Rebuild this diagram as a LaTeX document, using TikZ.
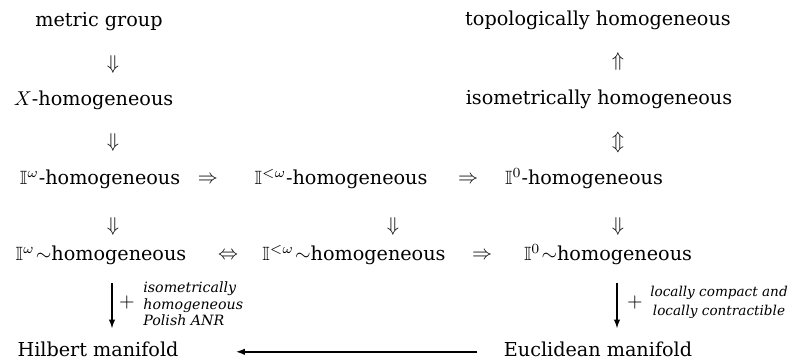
\documentclass[tikz,border=0pt]{standalone}
\usepackage{amsmath}
\usepackage{amssymb}
\usepackage{fontspec}
\setmainfont{DejaVu Serif}
\usepackage{tikz}
\usetikzlibrary{arrows.meta}
\newcommand{\cube}[1]{\mathbb{I}^{#1}}

\begin{document}
\begin{tikzpicture}[x=0.5pt, y=-0.5pt,
  every node/.style={inner sep=0pt, font=\fontsize{9.6}{11}\selectfont},
  prop/.style={anchor=base},
  fleche/.style={-{Latex[length=4.5pt, width=3.2pt]}, line width=0.75pt},
  remarque/.style={font=\fontsize{6.8}{8.3}\selectfont\itshape}]
  \useasboundingbox (0,0) rectangle (789,363);
  % La colonne de gauche, de haut en bas.
  \node[prop] (metr) at (99,27) {metric group};
  \node (impA) at (113,65) {$\Downarrow$};
  \node[prop] (xhom) at (93.5,106) {$X$-homogeneous};
  \node (impB) at (113,143) {$\Downarrow$};
  % La ligne des cubes.
  \node[prop] (iw) at (100,185) {$\cube{\omega}$-homogeneous};
  \node (impC) at (208,180) {$\Rightarrow$};
  \node[prop] (ifin) at (341,185) {$\cube{<\omega}$-homogeneous};
  \node (impD) at (468,180) {$\Rightarrow$};
  \node[prop] (izero) at (584,185) {$\cube{0}$-homogeneous};
  % La colonne de droite.
  \node[prop] (topo) at (598,26) {topologically homogeneous};
  \node (impE) at (618,62) {$\Uparrow$};
  \node[prop] (isom) at (599,105) {isometrically homogeneous};
  \node (impF) at (618,143) {$\Updownarrow$};
  % Vers la ligne des versions faibles.
  \node (impG) at (113,227) {$\Downarrow$};
  \node (impH) at (393,227) {$\Downarrow$};
  \node (impI) at (618,227) {$\Downarrow$};
  \node[prop] (iwt) at (101,261) {$\cube{\omega}\mkern1mu{\sim}$homogeneous};
  \node (impJ) at (228,256) {$\Leftrightarrow$};
  \node[prop] (ifint) at (354,261) {$\cube{<\omega}\mkern1mu{\sim}$homogeneous};
  \node (impK) at (482,256) {$\Rightarrow$};
  \node[prop] (izerot) at (608,261) {$\cube{0}\mkern1mu{\sim}$homogeneous};
  % Les variétés.
  \node[prop] (hilb) at (98,357) {Hilbert manifold};
  \node[prop] (eucl) at (598,357) {Euclidean manifold};
  \draw[fleche, shorten <=8.75pt, shorten >=6.7pt]
    ([xshift=5.5pt]iwt.south) -- ([xshift=7pt]hilb.north);
  \draw[fleche, shorten <=8.75pt, shorten >=6.7pt]
    ([xshift=4.5pt]izerot.south) -- ([xshift=9.5pt]eucl.north);
  \draw[fleche, shorten <=13pt, shorten >=28.5pt] (eucl.mid west) -- (hilb.mid east);
  % Les hypothèses ajoutées.
  \node (plusA) at (127,303) {$+$};
  \node[remarque, align=left, anchor=west, font=\fontsize{7.1}{8.3}\selectfont\itshape] (hypA) at (143,304)
    {isometrically\\homogeneous\\Polish ANR};
  \node (plusB) at (635,303) {$+$};
  \node[remarque, align=center, font=\fontsize{6.8}{9.5}\selectfont\itshape] (hypB) at (719,302)
    {locally compact and\\locally contractible};
\end{tikzpicture}
\end{document}
